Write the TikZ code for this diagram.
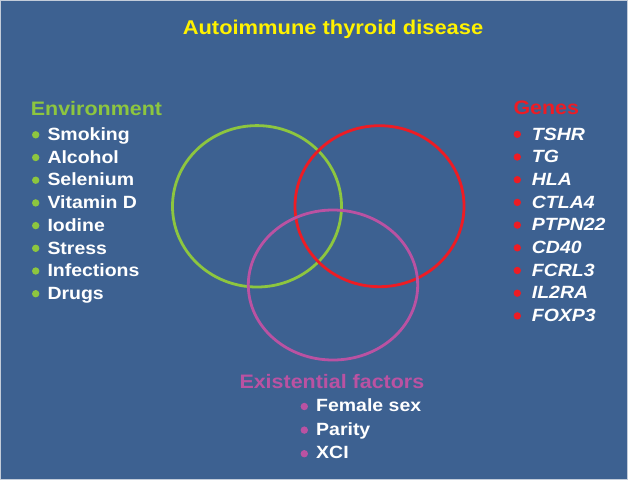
\documentclass[tikz,border=0pt]{standalone}
\usepackage{fontspec}
\setmainfont{Liberation Sans}[FakeStretch=1.1]
\usepackage{tikz}
\usetikzlibrary{positioning}
\definecolor{panelblue}{HTML}{3D6191}
\definecolor{panelrim}{HTML}{C3CCDA}
\definecolor{titleyellow}{HTML}{FFF200}
\definecolor{envgreen}{HTML}{8DC63F}
\definecolor{genered}{HTML}{ED1C24}
\definecolor{existpink}{HTML}{BA52A2}

\begin{document}
\begin{tikzpicture}[
  x=1pt,y=-1pt,
  heading/.style={anchor=base west,inner sep=0pt,font=\fontsize{19.5}{22}\selectfont\bfseries},
  item/.style={anchor=base west,inner sep=0pt,text=white,font=\fontsize{17.7}{20}\selectfont\bfseries},
  dot/.style={circle,inner sep=0pt,minimum size=7.4pt},
  ring/.style={line width=2.8pt}
]
\useasboundingbox (0,0) rectangle (628,480);
\fill[panelblue] (0,0) rectangle (628,480);
\draw[panelrim,line width=1.2pt] (0.6,0.6) rectangle (627.4,479.4);

\node[anchor=base,inner sep=0pt,text=titleyellow,font=\fontsize{19.9}{22}\selectfont\bfseries] (title) at (333,34.3) {Autoimmune thyroid disease};

% Venn rings
\draw[ring,envgreen] (257,206.3) ellipse [x radius=84.5,y radius=80.7];
\draw[ring,genered] (379.5,206.2) ellipse [x radius=84.5,y radius=80.5];
\draw[ring,existpink] (333,285) ellipse [x radius=84.7,y radius=75];

% Environment
\node[heading,text=envgreen] (envhead) at (30.7,115.7) {Environment};
\foreach \txt [count=\i] in {Smoking,Alcohol,Selenium,Vitamin D,Iodine,Stress,Infections,Drugs} {
  \node[item] (env\i) at (47.3,{140.5+22.7*(\i-1)}) {\txt};
  \node[dot,fill=envgreen] (envdot\i) at (35.7,{134.8+22.7*(\i-1)}) {};
}

% Genes
\node[heading,text=genered] (genehead) at (513.3,114.5) {Genes};
\foreach \txt [count=\i] in {TSHR,TG,HLA,CTLA4,PTPN22,CD40,FCRL3,IL2RA,FOXP3} {
  \node[item,font=\fontsize{17.7}{20}\selectfont\bfseries\itshape] (gene\i) at (531.7,{140+22.7*(\i-1)}) {\txt};
  \node[dot,fill=genered] (genedot\i) at (517.3,{134.3+22.7*(\i-1)}) {};
}

% Existential factors
\node[heading,text=existpink] (exhead) at (239.3,388.3) {Existential factors};
\foreach \txt [count=\i] in {Female sex,Parity,XCI} {
  \node[item] (ex\i) at (316,{411.7+23.6*(\i-1)}) {\txt};
  \node[dot,fill=existpink] (exdot\i) at (304.3,{406.5+23.6*(\i-1)}) {};
}
\end{tikzpicture}
\end{document}
